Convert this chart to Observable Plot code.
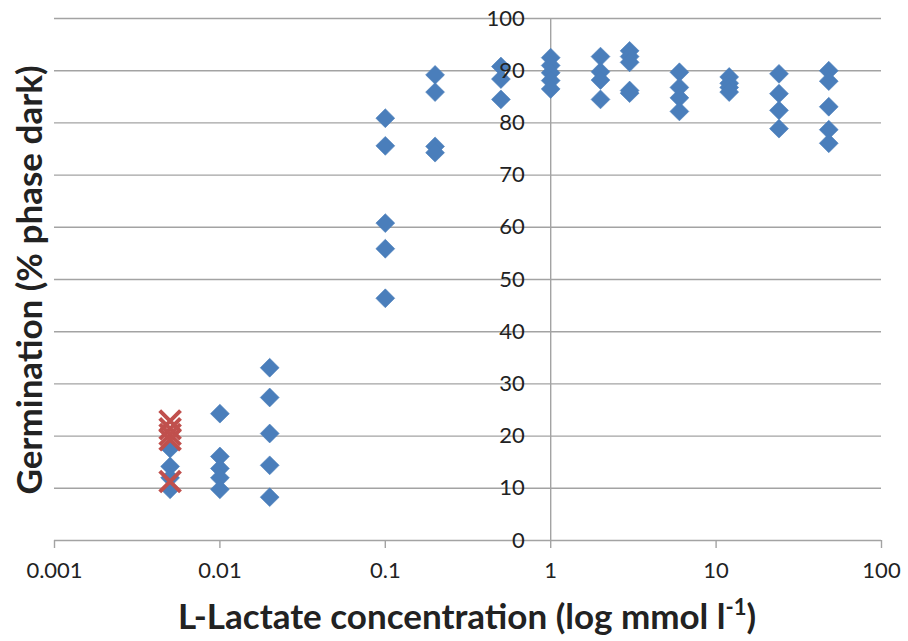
<!DOCTYPE html>
<html>
<head>
<meta charset="utf-8">
<script src="https://cdn.jsdelivr.net/npm/d3@7"></script>
<script src="https://cdn.jsdelivr.net/npm/@observablehq/plot@0.6"></script>
<style>
  html, body { margin: 0; padding: 0; background: #fff; }
  #chart svg { display: block; }
</style>
</head>
<body>
<div id="chart"></div>
<script>
// Concentrations (mmol/l) and germination values (% phase dark)
const concentrations = [0.005, 0.01, 0.02, 0.1, 0.2, 0.5, 1, 2, 3, 6, 12, 24, 48];
const blueGermination = [
  [17.6, 14.2, 12.0, 9.8],
  [24.3, 16.1, 13.8, 12.0, 9.8],
  [33.1, 27.4, 20.5, 14.4, 8.3],
  [80.9, 75.6, 60.8, 55.9, 46.4],
  [89.2, 85.9, 75.5, 74.3],
  [90.8, 88.4, 84.5],
  [92.5, 91.0, 89.6, 88.1, 86.5],
  [92.7, 89.8, 88.2, 84.5],
  [93.8, 92.7, 91.6, 86.2, 85.7],
  [89.7, 86.8, 84.8, 82.2],
  [88.8, 87.6, 86.8, 85.9],
  [89.4, 85.6, 82.4, 78.9],
  [90.0, 88.0, 83.1, 78.7, 76.1]
];
const redConcentrations = [0.005, 0.005, 0.005, 0.005, 0.005];
const redGermination = [22.9, 21.4, 20.3, 19.3, 11.3];

const xTicks = [0.001, 0.01, 0.1, 1, 10, 100];
const xTickLabels = ["0.001", "0.01", "0.1", "1", "10", "100"];
const yTicks = [0, 10, 20, 30, 40, 50, 60, 70, 80, 90, 100];

const blue = concentrations.flatMap((c, i) => blueGermination[i].map(g => ({c, g})));
const red = redConcentrations.map((c, i) => ({c, g: redGermination[i]}));

const font = "Lato, 'Open Sans', sans-serif";
const gridColor = "#a3a3a3";

const chart = Plot.plot({
  width: 908,
  height: 641,
  marginLeft: 54,
  marginRight: 27,
  marginTop: 18,
  marginBottom: 101,
  style: {fontFamily: font, background: "#fff"},
  x: {type: "log", domain: [0.001, 100]},
  y: {domain: [0, 100]},
  marks: [
    Plot.ruleY(yTicks, {stroke: gridColor, strokeWidth: 1.4}),
    Plot.ruleX([1], {y1: 0, y2: 100, stroke: gridColor, strokeWidth: 1.4}),
    Plot.axisX({
      ticks: xTicks,
      tickFormat: d => xTickLabels[xTicks.indexOf(d)],
      tickSize: 8,
      tickPadding: 14,
      stroke: gridColor,
      strokeWidth: 1.4,
      fill: "#222",
      fontSize: 22,
      label: null
    }),
    Plot.axisY({ticks: [], label: null, tickSize: 0}),
    Plot.dot(blue, {x: "c", y: "g", symbol: "diamond2", r: 8.5, fill: "#4a7ebb", stroke: "#4a7ebb", strokeWidth: 0.6}),
    Plot.dot(red, {x: "c", y: "g", symbol: "times", r: 9.5, stroke: "#c0504d", strokeWidth: 4}),
    Plot.text(yTicks, {
      x: 1, y: d => d, text: d => String(d),
      dx: -26, textAnchor: "end", fontSize: 22, fill: "#222"
    })
  ]
});

const svg = d3.select(chart);
// Y axis title
svg.append("text")
  .attr("transform", "translate(42,280) rotate(-90)")
  .attr("text-anchor", "middle")
  .attr("font-family", font)
  .attr("font-weight", "bold")
  .attr("font-size", 35)
  .attr("fill", "#222")
  .text("Germination (% phase dark)");
// X axis title with superscript
const xt = svg.append("text")
  .attr("x", 467)
  .attr("y", 629)
  .attr("text-anchor", "middle")
  .attr("font-family", font)
  .attr("font-weight", "bold")
  .attr("font-size", 35)
  .attr("fill", "#222");
xt.append("tspan").text("L-Lactate concentration (log mmol l");
xt.append("tspan").attr("font-size", 22).attr("dy", -14).text("-1");
xt.append("tspan").attr("dy", 14).text(")");

document.getElementById("chart").appendChild(chart);
</script>
</body>
</html>
